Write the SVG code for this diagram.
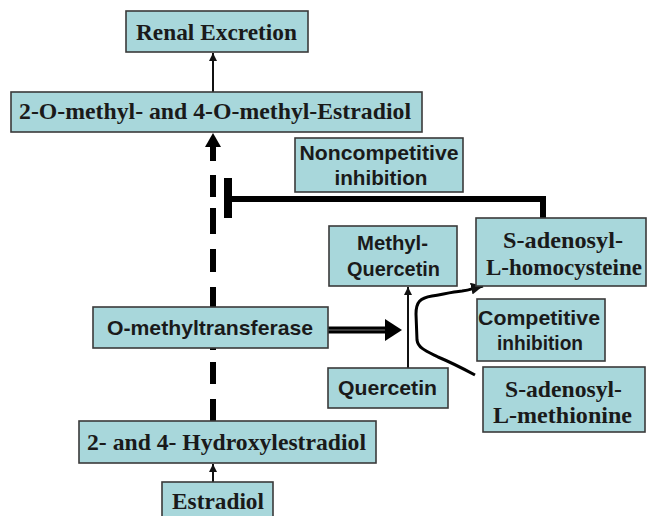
<svg xmlns="http://www.w3.org/2000/svg" width="648" height="516" viewBox="0 0 648 516">
<style>
.box{fill:#a8d7db;stroke:#3a3a3a;stroke-width:1.6}
.serif{font-family:"Liberation Serif","Times New Roman",serif;font-weight:bold;font-size:23px;fill:#1a1a1a;text-anchor:middle}
.sans{font-family:"Liberation Sans",Arial,sans-serif;font-weight:bold;font-size:21px;fill:#1a1a1a;text-anchor:middle}
.thin{fill:none;stroke:#111;stroke-width:2}
.dash{fill:none;stroke:#000;stroke-width:6}
.thick{fill:none;stroke:#000;stroke-width:6}
</style>
<defs>
<marker id="ah" viewBox="0 0 10 10" refX="10" refY="5" markerWidth="8" markerHeight="8" markerUnits="userSpaceOnUse" orient="auto">
<path d="M0,0 L10,5 L0,10 z" fill="#111"/>
</marker>
<marker id="ah2" viewBox="0 0 10 10" refX="10" refY="5" markerWidth="12" markerHeight="12" markerUnits="userSpaceOnUse" orient="auto">
<path d="M0,0 L10,5 L0,10 z" fill="#111"/>
</marker>
</defs>
<rect width="648" height="516" fill="#fff"/>
<g id="connectors">
<line class="thin" x1="213" y1="92" x2="213" y2="53" marker-end="url(#ah)"/>
<polygon points="205,147 213,133 221,147" fill="#000"/>
<path class="dash" d="M213,146 V161 M213,175 V197 M213,208 V234 M213,249 V272 M213,287 V307 M213,348 V350 M213,362 V384 M213,399 V421"/>
<rect x="224" y="178" width="8" height="40" fill="#000"/>
<path class="thick" d="M228,199 H543 V218" stroke-linejoin="miter"/>
<line x1="328" y1="330" x2="388" y2="330" stroke="#000" stroke-width="7"/>
<line x1="328" y1="330" x2="386" y2="330" stroke="#777" stroke-width="1.2"/>
<polygon points="385,319 402,330 385,341" fill="#000"/>
<line class="thin" x1="408" y1="368" x2="408" y2="287" marker-end="url(#ah)"/>
<path d="M475,375 C462,368 450,362 438,357 C426,351 418,348 417,340 L416,314 C416,302 420,298 432,296 C444,294 452,292 462,291 C470,290 474,288 483,286" fill="none" stroke="#000" stroke-width="3" stroke-linejoin="round" marker-end="url(#ah2)"/>
<line class="thin" x1="213" y1="482" x2="213" y2="464" marker-end="url(#ah)"/>
</g>
<g id="renal"><rect class="box" x="126" y="11" width="182" height="41"/><text class="serif" x="216.5" y="40" textLength="161" lengthAdjust="spacingAndGlyphs">Renal Excretion</text></g>
<g id="methylestradiol"><rect class="box" x="11" y="92" width="411" height="40"/><text class="serif" x="215" y="119" textLength="392" lengthAdjust="spacingAndGlyphs">2-O-methyl- and 4-O-methyl-Estradiol</text></g>
<g id="noncompetitive"><rect class="box" x="295" y="138" width="168" height="54"/><text class="sans" x="379" y="160" textLength="159" lengthAdjust="spacingAndGlyphs">Noncompetitive</text><text class="sans" x="381" y="185" textLength="93" lengthAdjust="spacingAndGlyphs">inhibition</text></g>
<g id="methylquercetin"><rect class="box" x="329" y="226" width="128" height="60"/><text class="sans" x="392.5" y="250" textLength="71" lengthAdjust="spacingAndGlyphs">Methyl-</text><text class="sans" x="393.5" y="276" textLength="93" lengthAdjust="spacingAndGlyphs">Quercetin</text></g>
<g id="sah"><rect class="box" x="476" y="218" width="170" height="68"/><text class="serif" x="563" y="248" textLength="120" lengthAdjust="spacingAndGlyphs">S-adenosyl-</text><text class="serif" x="564" y="275" textLength="156" lengthAdjust="spacingAndGlyphs">L-homocysteine</text></g>
<g id="omt"><rect class="box" x="93" y="307" width="235" height="41"/><text class="sans" x="210" y="335" textLength="206" lengthAdjust="spacingAndGlyphs">O-methyltransferase</text></g>
<g id="competitive"><rect class="box" x="477" y="299" width="128" height="62"/><text class="sans" x="539" y="325" textLength="122" lengthAdjust="spacingAndGlyphs">Competitive</text><text class="sans" x="540" y="350" textLength="86" lengthAdjust="spacingAndGlyphs">inhibition</text></g>
<g id="quercetin"><rect class="box" x="328" y="368" width="120" height="40"/><text class="sans" x="387.5" y="395" textLength="99" lengthAdjust="spacingAndGlyphs">Quercetin</text></g>
<g id="sam"><rect class="box" x="483" y="367" width="162" height="65"/><text class="serif" x="563.5" y="397" textLength="117" lengthAdjust="spacingAndGlyphs">S-adenosyl-</text><text class="serif" x="562.5" y="423" textLength="139" lengthAdjust="spacingAndGlyphs">L-methionine</text></g>
<g id="hydroxyestradiol"><rect class="box" x="79" y="421" width="297" height="42"/><text class="serif" x="226.5" y="450" textLength="279" lengthAdjust="spacingAndGlyphs">2- and 4- Hydroxylestradiol</text></g>
<g id="estradiol"><rect class="box" x="162" y="482" width="111" height="40"/><text class="serif" x="218" y="509" textLength="92" lengthAdjust="spacingAndGlyphs">Estradiol</text></g>
</svg>
